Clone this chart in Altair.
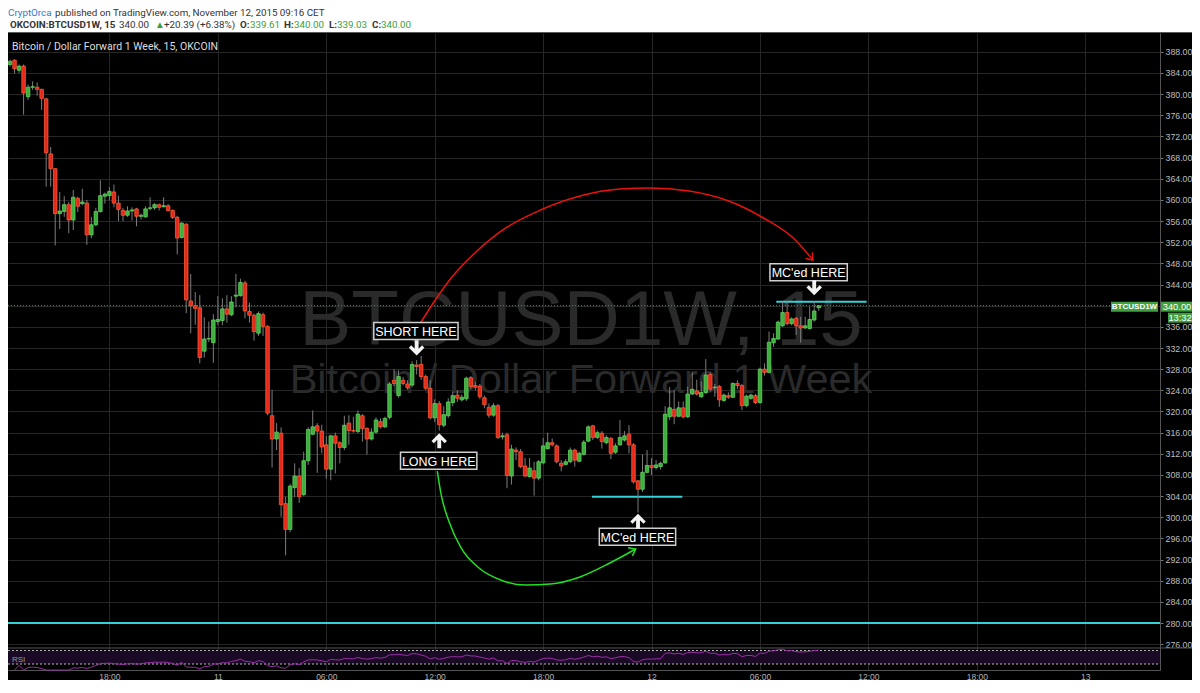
import altair as alt
import numpy as np
import pandas as pd

# ---------------- values ----------------
START = "2015-11-10T12:30:00Z"   # first 15-minute candle

OPEN = [385.6, 386.4, 384.5, 385.3, 379.5, 381.3, 381.3, 380.9, 379.1, 368.7,
        365.9, 357.4, 357.8, 359.1, 356.2, 360.3, 359.3, 359.4, 353.4, 355.3,
        357.8, 360.7, 360.8, 361.5, 359.4, 358.0, 357.1, 357.9, 358.3, 356.9,
        356.8, 358.4, 358.5, 359.1, 358.7, 358.9, 358.0, 356.7, 352.9, 355.4,
        340.9, 340.0, 339.6, 331.4, 333.7, 333.0, 337.0, 337.2, 339.4, 338.3,
        341.8, 341.9, 344.3, 338.9, 338.2, 334.8, 338.3, 336.1, 319.2, 314.8,
        315.9, 302.6, 297.7, 305.6, 307.8, 304.3, 310.7, 315.7, 317.3, 316.3,
        313.7, 309.1, 315.4, 314.1, 313.2, 317.8, 316.4, 316.2, 319.2, 316.8,
        314.8, 316.1, 318.1, 317.1, 318.9, 325.9, 323.0, 325.9, 325.2, 325.0,
        328.8, 328.9, 326.6, 324.4, 318.8, 321.5, 317.4, 319.2, 321.7, 323.1,
        322.2, 322.4, 326.4, 324.9, 324.8, 322.6, 320.8, 319.3, 321.1, 315.2,
        315.6, 307.8, 312.7, 312.4, 309.7, 307.7, 308.8, 307.4, 310.3, 313.0,
        314.1, 313.5, 310.2, 310.0, 310.5, 312.7, 310.6, 311.9, 314.4, 317.3,
        315.1, 315.9, 314.1, 314.9, 312.3, 313.7, 314.6, 315.7, 313.7, 306.9,
        305.3, 308.5, 309.8, 309.4, 309.6, 310.3, 319.0, 320.4, 319.1, 320.7,
        319.0, 323.3, 323.9, 322.8, 323.6, 327.0, 324.5, 324.7, 322.1, 323.0,
        322.7, 325.3, 324.9, 321.1, 322.5, 323.0, 321.7, 328.0, 327.4, 333.0,
        333.7, 336.2, 338.7, 336.6, 337.6, 336.2, 335.8, 335.7, 337.3, 339.61]
HIGH = [386.5, 386.6, 385.6, 385.6, 381.8, 382.4, 382.2, 381.0, 379.3, 370.0,
        366.0, 361.5, 360.7, 359.6, 361.9, 360.6, 362.1, 360.0, 356.8, 358.5,
        363.7, 361.4, 362.4, 362.9, 360.8, 358.5, 358.8, 358.6, 358.5, 357.4,
        358.8, 360.5, 359.4, 359.3, 360.5, 359.2, 358.2, 357.0, 355.8, 355.6,
        346.0, 342.6, 342.0, 337.8, 337.0, 338.4, 341.8, 341.4, 342.0, 341.8,
        346.0, 345.1, 344.7, 340.6, 338.5, 338.9, 338.7, 336.3, 324.1, 317.8,
        317.0, 303.9, 306.3, 310.2, 309.3, 312.4, 317.0, 320.2, 317.8, 317.5,
        315.4, 315.6, 316.0, 314.4, 319.2, 319.3, 319.0, 320.2, 319.5, 317.0,
        316.8, 318.9, 318.7, 319.0, 325.6, 328.0, 327.8, 326.5, 325.9, 329.5,
        329.7, 330.5, 327.0, 325.9, 322.3, 322.0, 321.0, 322.5, 323.8, 324.0,
        323.2, 326.6, 326.7, 325.6, 325.2, 323.0, 321.5, 321.6, 321.4, 316.0,
        316.0, 313.7, 313.2, 312.9, 311.2, 311.2, 310.5, 310.8, 315.0, 316.0,
        314.9, 313.8, 310.8, 311.0, 313.2, 313.0, 312.4, 314.6, 317.4, 317.5,
        316.4, 316.3, 315.5, 315.2, 314.0, 318.4, 316.3, 317.4, 314.0, 307.0,
        311.9, 312.7, 311.2, 310.8, 310.5, 321.0, 324.6, 324.0, 321.9, 321.9,
        324.7, 327.5, 326.0, 325.7, 329.9, 327.4, 325.2, 325.0, 323.4, 323.6,
        325.5, 325.9, 325.2, 323.2, 323.4, 323.3, 328.3, 329.1, 335.1, 334.8,
        337.2, 340.8, 340.8, 337.8, 337.9, 337.9, 337.9, 339.8, 340.8, 340.00]
LOW = [385.2, 383.9, 384.0, 376.1, 378.9, 380.8, 379.7, 377.0, 362.5, 362.5,
       351.4, 354.5, 356.8, 353.7, 354.3, 357.7, 359.0, 351.5, 352.8, 355.0,
       357.6, 359.3, 359.9, 358.6, 356.0, 356.0, 356.8, 356.1, 355.0, 356.3,
       356.6, 358.0, 358.1, 358.0, 358.6, 357.8, 356.4, 349.7, 352.7, 338.6,
       334.8, 336.4, 329.1, 330.2, 333.1, 329.2, 336.3, 336.3, 336.8, 338.0,
       339.7, 341.7, 337.6, 336.8, 333.4, 334.3, 334.3, 319.3, 309.4, 312.7,
       300.1, 292.8, 297.2, 303.8, 302.7, 304.0, 309.9, 315.5, 308.4, 312.1,
       307.3, 307.0, 308.3, 310.2, 312.7, 313.7, 316.0, 315.9, 314.3, 311.9,
       314.5, 315.8, 316.8, 316.9, 318.5, 324.8, 322.6, 324.9, 324.1, 324.6,
       327.0, 326.0, 324.0, 318.5, 318.0, 316.4, 317.0, 318.8, 321.0, 321.8,
       321.9, 322.0, 324.3, 324.0, 322.3, 320.6, 318.8, 319.0, 314.8, 314.7,
       305.5, 306.2, 310.8, 309.3, 307.6, 307.5, 304.1, 307.0, 310.0, 312.8,
       313.4, 310.2, 308.7, 309.8, 310.2, 309.6, 310.4, 311.7, 314.2, 314.6,
       314.8, 313.0, 313.8, 311.0, 312.0, 313.5, 314.3, 312.1, 306.4, 300.9,
       304.8, 308.3, 308.0, 309.0, 309.0, 310.1, 318.4, 317.6, 318.9, 318.7,
       318.8, 323.1, 323.0, 322.6, 323.3, 323.8, 322.8, 320.9, 321.8, 322.4,
       322.5, 324.2, 320.3, 320.8, 322.2, 321.4, 321.5, 326.8, 327.2, 332.2,
       333.5, 336.0, 336.3, 336.3, 334.5, 333.0, 335.6, 335.5, 337.0, 339.03]
CLOSE = [386.2, 384.8, 385.3, 380.2, 381.3, 381.4, 380.9, 379.2, 368.9, 365.9,
         357.4, 357.9, 359.1, 356.2, 360.5, 358.8, 359.6, 353.4, 355.3, 357.8,
         360.8, 361.1, 361.6, 359.4, 358.2, 357.1, 357.9, 358.1, 356.9, 357.1,
         358.3, 358.5, 359.1, 358.6, 358.9, 358.0, 356.7, 352.8, 355.6, 341.1,
         340.0, 339.5, 330.2, 333.7, 333.8, 337.3, 337.4, 339.4, 338.4, 340.7,
         342.0, 344.4, 339.0, 338.2, 335.1, 338.5, 336.1, 319.7, 314.8, 316.1,
         302.4, 297.7, 305.9, 307.8, 303.9, 310.7, 316.6, 317.1, 316.3, 313.3,
         309.1, 315.4, 314.0, 313.2, 317.4, 316.4, 316.3, 319.5, 316.8, 314.8,
         316.1, 318.4, 317.1, 318.7, 325.2, 325.3, 326.6, 325.3, 324.5, 328.9,
         328.5, 326.6, 324.4, 318.8, 321.5, 317.5, 319.4, 321.8, 323.0, 322.5,
         322.7, 326.3, 324.7, 324.6, 322.8, 321.3, 319.3, 321.1, 315.1, 315.4,
         307.9, 312.9, 312.4, 309.6, 307.8, 309.3, 307.4, 310.5, 313.5, 314.1,
         313.7, 310.5, 309.7, 310.5, 312.7, 310.8, 312.1, 314.2, 317.1, 315.1,
         316.0, 314.3, 315.1, 312.1, 313.5, 315.1, 315.4, 313.7, 306.7, 305.3,
         308.5, 309.8, 309.4, 309.9, 310.2, 319.5, 320.7, 319.1, 320.7, 319.0,
         323.3, 324.2, 323.3, 323.6, 326.9, 324.2, 324.6, 322.2, 323.1, 322.7,
         325.3, 324.9, 321.1, 322.9, 323.1, 321.7, 328.0, 327.4, 333.1, 333.8,
         336.9, 338.7, 336.6, 337.5, 336.2, 335.8, 336.2, 337.4, 339.0, 340.00]

LAST_PRICE = 340.00
LEVEL_280 = 280.0
LEVEL_LOW = 303.9           # cyan segment under the low
LEVEL_HIGH = 340.76         # cyan segment over the top
SEG_LOW_H = [32.2, 37.2]    # hours after START
SEG_HIGH_H = [42.4, 47.4]

NOTE_TEXT = ["SHORT HERE", "LONG HERE", "MC'ed HERE", "MC'ed HERE"]
NOTE_H = [22.46, 23.72, 34.72, 44.19]
NOTE_P = [335.2, 310.7, 296.3, 346.3]
ARROW_H = [22.5, 23.75, 34.75, 44.5]
ARROW_P = [332.0, 314.5, 299.3, 343.35]
ARROW_DIR = ["down", "up", "up", "down"]

RED_H = [22.71, 23.42, 24.41, 25.78, 27.43, 29.35, 31.54, 33.74, 35.38, 37.58, 39.77, 41.69, 43.34, 44.43]
RED_P = [336.73, 340.51, 345.24, 350.15, 354.69, 358.09, 360.74, 362.06, 362.25, 361.68, 359.79, 356.58, 352.80, 348.64]
GREEN_H = [23.64, 23.86, 24.30, 24.96, 25.95, 27.15, 28.52, 29.90, 31.54, 33.19, 34.62]
GREEN_P = [308.75, 304.22, 299.11, 294.20, 290.42, 288.15, 287.20, 287.39, 288.72, 291.36, 294.01]

X_TICKS_H = [5.5, 11.5, 17.5, 23.5, 29.5, 35.5, 41.5, 47.5, 53.5, 59.5]
Y_TICKS = [276, 280, 284, 288, 292, 296, 300, 304, 308, 312, 316, 320, 324, 328,
           332, 336, 340, 344, 348, 352, 356, 360, 364, 368, 372, 376, 380, 384, 388]

# ---------------- layout / style ----------------
PAD = {"left": 0, "top": 25, "right": 32, "bottom": 10}
W, H = 1152, 637
TOP_PAGE = 8 + PAD["top"]          # page y of the plot's top edge
PX_PER_HOUR = 18.23
PX_PER_USD = 5.29
X0_H = 3 / PX_PER_HOUR
X1_H = X0_H + W / PX_PER_HOUR
Y_TOP = 340 + (305.7 - TOP_PAGE) / PX_PER_USD
Y_BOT = Y_TOP - H / PX_PER_USD

FONT = "Liberation Sans"
HFONT = "Roboto"
GRID = "#262626"
UP_FILL, UP_EDGE = "#3fae3f", "#5fd35f"
DN_FILL, DN_EDGE = "#e4281b", "#ff5a35"
CYAN = "#35d0d8"

T0 = pd.Timestamp(START)


def iso(h):
    return (T0 + pd.Timedelta(hours=float(h))).strftime("%Y-%m-%dT%H:%M:%SZ")


def ms(h):
    return int((T0 + pd.Timedelta(hours=float(h))).timestamp() * 1000)


def price_at(page_y):
    return Y_TOP - (page_y - TOP_PAGE) / PX_PER_USD


def py(page_y):
    return page_y - TOP_PAGE


def px(page_x):
    return page_x - 8


XS = alt.Scale(type="utc", domain=[ms(X0_H), ms(X1_H)], nice=False)
YS = alt.Scale(domain=[Y_BOT, Y_TOP], nice=False, zero=False)
XAX = alt.Axis(values=[ms(h) for h in X_TICKS_H],
               labelExpr="utchours(datum.value) == 0 ? utcFormat(datum.value, '%-d') : utcFormat(datum.value, '%H:%M')",
               grid=True, gridColor=GRID, gridWidth=1, domain=True, domainColor="#555555",
               ticks=False, labelColor="#b4b4b4", labelFont=FONT, labelFontSize=8.5,
               labelPadding=2, title=None, labelOverlap=False, labelFlush=False, labelBound=False)
YAX = alt.Axis(orient="right", values=Y_TICKS,
               labelExpr="datum.value == 340 ? '' : format(datum.value, '.2f')",
               grid=True, gridColor=GRID, gridWidth=1, domainColor="#555555",
               tickColor="#777777", tickSize=3, labelColor="#bdbdbd", labelFont=FONT,
               labelFontSize=8.8, labelPadding=2, title=None, labelOverlap=False)


def X(f):
    return alt.X(f + ":T", scale=XS, axis=XAX)


def Y(f):
    return alt.Y(f + ":Q", scale=YS, axis=YAX)


ONE = pd.DataFrame({"k": [0]})


def deco_text(s, x, y, size, color, weight="normal", align="left", font=FONT, baseline="alphabetic"):
    return alt.Chart(ONE).mark_text(text=s, font=font, fontSize=size, color=color, fontWeight=weight,
                                    align=align, baseline=baseline).encode(x=alt.value(x), y=alt.value(y))


def hline(price, color, x0=0, x1=W, width=1, dash=None):
    kw = dict(color=color, strokeWidth=width)
    if dash:
        kw["strokeDash"] = dash
    return alt.Chart(pd.DataFrame({"p": [price]})).mark_rule(**kw).encode(
        y=Y("p"), x=alt.value(x0), x2=alt.value(x1))


# ---------------- tables ----------------
N = len(CLOSE)
candles = pd.DataFrame({"time": [iso(i * 0.25) for i in range(N)],
                        "open": OPEN, "high": HIGH, "low": LOW, "close": CLOSE})
candles["dir"] = np.where(candles["close"] >= candles["open"], "up", "down")

# RSI(14), Wilder smoothing, computed from the closes
cl = np.array(CLOSE)
d = np.diff(cl)
g = np.clip(d, 0, None)
l = np.clip(-d, 0, None)
ag = np.zeros(len(d))
al = np.zeros(len(d))
for k in range(len(d)):
    if k < 14:
        ag[k] = g[:k + 1].mean()
        al[k] = l[:k + 1].mean()
    else:
        ag[k] = (ag[k - 1] * 13 + g[k]) / 14
        al[k] = (al[k - 1] * 13 + l[k]) / 14
rsi = 100 - 100 / (1 + ag / np.maximum(al, 1e-9))
PANE_TOP, RSI70_Y, RSI30_Y = 648.0, 650.5, 664.0
rsi_page_y = RSI70_Y + (70 - np.clip(rsi, 12, 77)) * (RSI30_Y - RSI70_Y) / 40
rsi_df = pd.DataFrame({"time": [iso(i * 0.25) for i in range(1, N)],
                       "p": [price_at(y) for y in rsi_page_y]})

BOX_W = [85, 77, 77, 78]
BOX_HPX = 17
notes = pd.DataFrame({"text": NOTE_TEXT, "h": NOTE_H, "p": NOTE_P, "w": BOX_W})
notes["time"] = [iso(h) for h in notes["h"]]
notes["t0"] = [iso(h - w / 2 / PX_PER_HOUR) for h, w in zip(notes["h"], notes["w"])]
notes["t1"] = [iso(h + w / 2 / PX_PER_HOUR) for h, w in zip(notes["h"], notes["w"])]
notes["p0"] = notes["p"] + BOX_HPX / 2 / PX_PER_USD
notes["p1"] = notes["p"] - BOX_HPX / 2 / PX_PER_USD

arrows = pd.DataFrame({"time": [iso(h) for h in ARROW_H], "p": ARROW_P, "dir": ARROW_DIR})
red = pd.DataFrame({"time": [iso(h) for h in RED_H], "p": RED_P})
green = pd.DataFrame({"time": [iso(h) for h in GREEN_H], "p": GREEN_P})
segs = pd.DataFrame({"t0": [iso(SEG_LOW_H[0]), iso(SEG_HIGH_H[0])],
                     "t1": [iso(SEG_LOW_H[1]), iso(SEG_HIGH_H[1])],
                     "p": [LEVEL_LOW, LEVEL_HIGH]})

# ---------------- layers ----------------
layers = []
FULL_W = W + PAD["right"]

# header (white band above the black chart)
layers.append(alt.Chart(ONE).mark_rect(color="#ffffff").encode(
    x=alt.value(0), x2=alt.value(FULL_W), y=alt.value(-PAD["top"]), y2=alt.value(-1)))
layers.append(alt.Chart(ONE).mark_rule(color="#5a5a5a", strokeWidth=1).encode(
    x=alt.value(0), x2=alt.value(FULL_W), y=alt.value(-0.5)))

# watermark
layers.append(deco_text("BTCUSD1W, 15", W / 2 - 3, py(345), 78, "#2a2a2a", align="center"))
layers.append(deco_text("Bitcoin / Dollar Forward 1 Week", W / 2 - 3, py(393), 41.5, "#2a2a2a", align="center"))

# RSI pane
band = pd.DataFrame({"a": [price_at(RSI70_Y)], "b": [price_at(RSI30_Y)]})
layers.append(alt.Chart(band).mark_rect(color="#1b0a26").encode(
    y=Y("a"), y2="b", x=alt.value(0), x2=alt.value(W)))
layers.append(hline(price_at(RSI70_Y), "#b8b8b8", dash=[2, 2]))
layers.append(hline(price_at(RSI30_Y), "#b8b8b8", dash=[2, 2]))
layers.append(hline(price_at(PANE_TOP), "#555555", x0=0, x1=FULL_W))

# levels
layers.append(hline(LEVEL_280, CYAN, width=2))
layers.append(alt.Chart(segs).mark_rule(color=CYAN, strokeWidth=2).encode(
    x=X("t0"), x2="t1", y=Y("p")))
layers.append(hline(LAST_PRICE, "#3f9f3f", x0=0, x1=px(1110), dash=[1, 2]))

# candles
layers.append(alt.Chart(candles).mark_rule(color="#7d7d7d", strokeWidth=1).encode(
    x=X("time"), y=Y("low"), y2="high"))
layers.append(alt.Chart(candles).mark_bar(size=3.5, strokeWidth=0.8).encode(
    x=X("time"), y=Y("open"), y2="close",
    fill=alt.Fill("dir:N", scale=alt.Scale(domain=["up", "down"], range=[UP_FILL, DN_FILL]), legend=None),
    stroke=alt.Stroke("dir:N", scale=alt.Scale(domain=["up", "down"], range=[UP_EDGE, DN_EDGE]), legend=None)))

# RSI line
layers.append(alt.Chart(rsi_df).mark_line(color="#9a2fa8", strokeWidth=1).encode(
    x=X("time"), y=Y("p")))

# hand drawn curves
layers.append(alt.Chart(red).mark_line(color="#e8140c", strokeWidth=1.5, interpolate="monotone").encode(
    x=X("time"), y=Y("p")))
layers.append(alt.Chart(green).mark_line(color="#22e022", strokeWidth=1.5, interpolate="monotone").encode(
    x=X("time"), y=Y("p")))
CHEVRON = "M-1,-0.75L0,0L-1,0.75"
layers.append(alt.Chart(red.tail(1)).mark_point(shape=CHEVRON, filled=False, size=150, angle=48,
                                                 color="#e8140c", strokeWidth=1.5, opacity=1).encode(
    x=X("time"), y=Y("p")))
layers.append(alt.Chart(green.tail(1)).mark_point(shape=CHEVRON, filled=False, size=150, angle=332,
                                                   color="#22e022", strokeWidth=1.5, opacity=1).encode(
    x=X("time"), y=Y("p")))

# note boxes, texts, arrows
layers.append(alt.Chart(notes).mark_rect(fill="#000000", stroke="#cfcfcf", strokeWidth=1.5).encode(
    x=X("t0"), x2="t1", y=Y("p0"), y2="p1"))
layers.append(alt.Chart(notes).mark_text(font=FONT, fontSize=12.5, color="#ffffff", baseline="middle", dy=1).encode(
    x=X("time"), y=Y("p"), text="text:N"))
ARROW = "M-0.25,-1L0.25,-1L0.25,0.1L0.7,-0.35L1,-0.05L0,0.95L-1,-0.05L-0.7,-0.35L-0.25,0.1Z"
layers.append(alt.Chart(arrows[arrows["dir"] == "down"]).mark_point(
    shape=ARROW, filled=True, size=240, color="#f2f2f2", opacity=1, strokeWidth=0).encode(x=X("time"), y=Y("p")))
layers.append(alt.Chart(arrows[arrows["dir"] == "up"]).mark_point(
    shape=ARROW, filled=True, size=240, angle=180, color="#f2f2f2", opacity=1, strokeWidth=0).encode(x=X("time"), y=Y("p")))

# right-hand price tags
tag = pd.DataFrame({"a": [LAST_PRICE + 0.76], "b": [LAST_PRICE - 1.13], "c": [LAST_PRICE - 0.19],
                    "d": [LAST_PRICE - 1.32], "e": [LAST_PRICE - 3.21], "f": [LAST_PRICE - 2.26]})
TAG_GREEN = "#40a040"
layers.append(alt.Chart(tag).mark_rect(color=TAG_GREEN).encode(
    y=Y("a"), y2="b", x=alt.value(px(1111)), x2=alt.value(px(1158))))
layers.append(alt.Chart(tag).mark_rect(color=TAG_GREEN).encode(
    y=Y("a"), y2="b", x=alt.value(px(1161)), x2=alt.value(px(1193))))
layers.append(alt.Chart(tag).mark_rect(color=TAG_GREEN).encode(
    y=Y("d"), y2="e", x=alt.value(px(1168)), x2=alt.value(px(1192))))
layers.append(alt.Chart(tag).mark_text(text="BTCUSD1W", font=FONT, fontSize=8, fontWeight="bold",
                                       color="#ffffff", baseline="middle").encode(y=Y("c"), x=alt.value(px(1134.5))))
layers.append(alt.Chart(tag).mark_text(text="340.00", font=FONT, fontSize=9.3,
                                       color="#ffffff", baseline="middle").encode(y=Y("c"), x=alt.value(px(1177))))
layers.append(alt.Chart(tag).mark_text(text="13:32", font=FONT, fontSize=9.3,
                                       color="#ffffff", baseline="middle").encode(y=Y("f"), x=alt.value(px(1180))))

# texts
DARK = "#333333"
BLUE = "#2f7dcc"
TGREEN = "#3a9e3a"
HSIZE = 9.8
layers.append(deco_text("CryptOrca", 0, py(16), HSIZE, BLUE, font=HFONT))
layers.append(deco_text("published on TradingView.com, November 12, 2015 09:16 CET", 47, py(16), HSIZE, DARK, font=HFONT))
HEAD2 = [("OKCOIN:BTCUSD1W, 15", 2, DARK, "bold"), ("340.00", 111, DARK, "normal"),
         ("\u25B2", 147, TGREEN, "normal"), ("+20.39 (+6.38%)", 156, DARK, "normal"),
         ("O:", 232, DARK, "bold"), ("339.61", 242, TGREEN, "normal"),
         ("H:", 276, DARK, "bold"), ("340.00", 286, TGREEN, "normal"),
         ("L:", 321, DARK, "bold"), ("339.03", 329, TGREEN, "normal"),
         ("C:", 364, DARK, "bold"), ("340.00", 373, TGREEN, "normal")]
for s, x, c, wgt in HEAD2:
    layers.append(deco_text(s, x, py(28), HSIZE, c, weight=wgt, font=HFONT))
layers.append(deco_text("Bitcoin / Dollar Forward 1 Week, 15, OKCOIN", px(12), py(50), 10.5, "#dedede", font=HFONT))
layers.append(deco_text("RSI", px(12), py(662), 8, "#9a9a9a"))

chart = alt.layer(*layers).properties(
    width=W, height=H,
    background="#000000",
    padding=PAD,
    autosize=alt.AutoSizeParams(type="none"),
).configure_view(strokeWidth=0)

chart.save("out.html", embed_options={"renderer": "svg", "actions": False})
